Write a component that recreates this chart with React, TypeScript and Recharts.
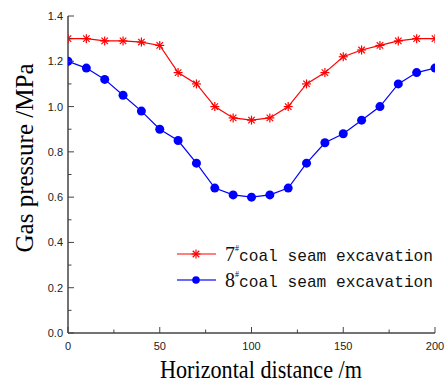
import React from 'react';
import { LineChart, Line, XAxis, YAxis, Legend, Label } from 'recharts';

const distance = [0, 10, 20, 30, 40, 50, 60, 70, 80, 90, 100, 110, 120, 130, 140, 150, 160, 170, 180, 190, 200];
const seam7 = [1.30, 1.30, 1.29, 1.29, 1.285, 1.27, 1.15, 1.10, 1.00, 0.95, 0.94, 0.95, 1.00, 1.10, 1.15, 1.22, 1.25, 1.27, 1.29, 1.30, 1.30];
const seam8 = [1.20, 1.17, 1.12, 1.05, 0.98, 0.90, 0.85, 0.75, 0.64, 0.61, 0.60, 0.61, 0.64, 0.75, 0.84, 0.88, 0.94, 1.00, 1.10, 1.15, 1.17];
const xTicks = [0, 25, 50, 75, 100, 125, 150, 175, 200];
const yTicks = [0, 0.1, 0.2, 0.3, 0.4, 0.5, 0.6, 0.7, 0.8, 0.9, 1.0, 1.1, 1.2, 1.3, 1.4];
const seriesNames = ['7', '8'];

const data = distance.map((d, i) => ({ d, s7: seam7[i], s8: seam8[i] }));

const AXIS = '#444';
const TICK_FONT = '"Liberation Sans", Arial, sans-serif';
const SERIF = '"Liberation Serif", "Times New Roman", serif';

const StarDot = (props: any) => {
  const { cx, cy } = props;
  if (cx == null || cy == null) return null;
  const r = 4.5;
  const d = r * 0.72;
  return (
    <g stroke="#ff0000" strokeWidth={1.2}>
      <line x1={cx - r} y1={cy} x2={cx + r} y2={cy} />
      <line x1={cx} y1={cy - r} x2={cx} y2={cy + r} />
      <line x1={cx - d} y1={cy - d} x2={cx + d} y2={cy + d} />
      <line x1={cx - d} y1={cy + d} x2={cx + d} y2={cy - d} />
    </g>
  );
};

const YTick = (props: any) => {
  const { x, y, payload } = props;
  const v = Math.round(payload.value * 10);
  const major = v % 2 === 0;
  return (
    <g>
      <line x1={x} y1={y} x2={x + (major ? 6 : 3.5)} y2={y} stroke={AXIS} strokeWidth={1} />
      {major && (
        <text x={x - 5} y={y + 4} textAnchor="end" fontSize={11} fontFamily={TICK_FONT} fill="#222">
          {(v / 10).toFixed(1)}
        </text>
      )}
    </g>
  );
};

const XTick = (props: any) => {
  const { x, y, payload } = props;
  const major = payload.value % 50 === 0;
  return (
    <g>
      <line x1={x} y1={y} x2={x} y2={y - (major ? 6 : 3.5)} stroke={AXIS} strokeWidth={1} />
      {major && (
        <text x={x} y={y + 17} textAnchor="middle" fontSize={11} fontFamily={TICK_FONT} fill="#222">
          {payload.value}
        </text>
      )}
    </g>
  );
};

const LegendBox = () => (
  <svg width={276} height={60} style={{ display: 'block' }}>
    <line x1={7} y1={14} x2={46} y2={14} stroke="#ff0000" strokeWidth={1.2} />
    <StarDot cx={26} cy={14} />
    <line x1={7} y1={40} x2={46} y2={40} stroke="#6a6aff" strokeWidth={2} />
    <circle cx={26} cy={40} r={3.8} fill="#0000ff" />
    {seriesNames.map((n, i) => (
      <g key={n}>
        <text x={55} y={21 + i * 26} fontSize={20} fontFamily={SERIF} fill="#111">{n}</text>
        <text x={65} y={11 + i * 26} fontSize={8} fontFamily={SERIF} fill="#111">#</text>
        <text x={69} y={21 + i * 26} fontSize={17} fontFamily='"Liberation Mono", monospace' fill="#111"
          textLength={194} lengthAdjust="spacingAndGlyphs">coal seam excavation</text>
      </g>
    ))}
  </svg>
);

export default function App() {
  return (
    <div style={{ position: 'absolute', left: 0, top: 0, background: '#fff' }}>
      <LineChart width={446} height={385} data={data} margin={{ top: 16, right: 11, left: 0, bottom: 0 }}>
        <XAxis
          dataKey="d"
          type="number"
          domain={[0, 200]}
          ticks={xTicks}
          interval={0}
          allowDataOverflow
          height={52}
          tickSize={0}
          tickMargin={0}
          tickLine={false}
          tick={<XTick />}
          axisLine={{ stroke: AXIS, strokeWidth: 1.5 }}
        >
          <Label
            content={() => (
              <text x={261} y={378} textAnchor="middle" fontSize={26} fontFamily={SERIF} fill="#000"
                textLength={202} lengthAdjust="spacingAndGlyphs">Horizontal distance /m</text>
            )}
          />
        </XAxis>
        <YAxis
          type="number"
          domain={[0, 1.4]}
          ticks={yTicks}
          interval={0}
          allowDataOverflow
          width={68}
          tickSize={0}
          tickMargin={0}
          tickLine={false}
          tick={<YTick />}
          axisLine={{ stroke: AXIS, strokeWidth: 1.5 }}
        >
          <Label
            content={() => (
              <text x={33} y={158} transform="rotate(-90 33 158)" textAnchor="middle" fontSize={26} fontFamily={SERIF}
                fill="#000" textLength={189} lengthAdjust="spacingAndGlyphs">Gas pressure /MPa</text>
            )}
          />
        </YAxis>
        <Legend
          layout="vertical"
          align="center"
          verticalAlign="middle"
          content={() => <LegendBox />}
          wrapperStyle={{ position: 'absolute', left: 170, top: 240, width: 276, height: 60 }}
        />
        <Line dataKey="s7" name="7#coal seam excavation" stroke="#ff0000" strokeWidth={1.2} dot={<StarDot />} isAnimationActive={false} />
        <Line dataKey="s8" name="8#coal seam excavation" stroke="#0000ff" strokeWidth={1.2}
          dot={{ r: 4.5, fill: '#0000ff', stroke: '#0000ff', strokeWidth: 0 }} isAnimationActive={false} />
      </LineChart>
    </div>
  );
}
